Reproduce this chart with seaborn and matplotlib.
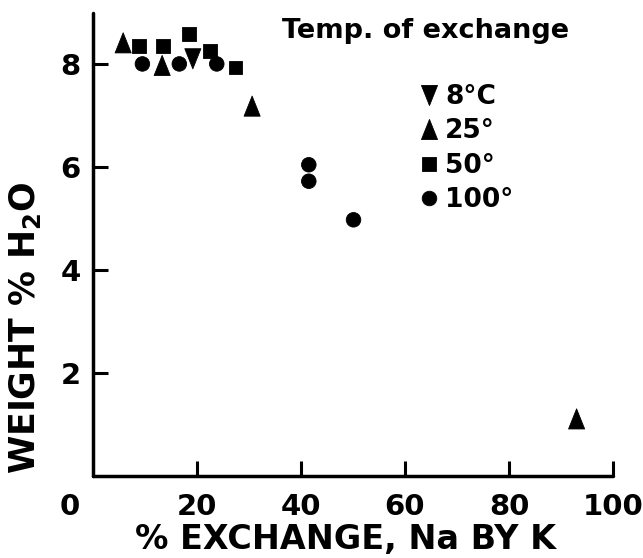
import numpy as np
import pandas as pd
import matplotlib
matplotlib.use("Agg")
import matplotlib.pyplot as plt
from matplotlib.path import Path
import seaborn as sns

# Water content vs. degree of Na -> K exchange, grouped by exchange temperature
temp_labels = ["8°C", "25°", "50°", "100°"]

exch_8 = [19.2]
water_8 = [8.11]

exch_25 = [5.8, 13.3, 30.6, 93.0]
water_25 = [8.42, 7.98, 7.19, 1.11]

exch_50 = [8.9, 13.4, 18.5, 22.5, 27.4]
water_50 = [8.36, 8.36, 8.60, 8.26, 7.94]

exch_100 = [9.5, 16.6, 23.8, 41.5, 41.5, 50.1]
water_100 = [8.01, 8.01, 8.01, 6.05, 5.73, 4.98]

x_ticks = [20, 40, 60, 80, 100]
y_ticks = [2, 4, 6, 8]

frames = []
for lab, xs, ys in zip(temp_labels,
                       [exch_8, exch_25, exch_50, exch_100],
                       [water_8, water_25, water_50, water_100]):
    frames.append(pd.DataFrame({"exchange": xs, "water": ys, "temp": lab}))
df = pd.concat(frames, ignore_index=True)

# narrow, tall triangles
codes = [Path.MOVETO, Path.LINETO, Path.LINETO, Path.CLOSEPOLY]
tri_up = Path([(0, 1), (-0.8, -1), (0.8, -1), (0, 1)], codes)
tri_down = Path([(0, -1), (-0.8, 1), (0.8, 1), (0, -1)], codes)

markers = {"8°C": tri_down, "25°": tri_up, "50°": "s", "100°": "o"}
sizes = {"8°C": 210, "25°": 210, "50°": 100, "100°": 110}
palette = {lab: "black" for lab in temp_labels}

sns.set_theme(style="ticks")
plt.rcParams["font.family"] = ["DejaVu Sans"]
plt.rcParams["font.weight"] = "bold"
plt.rcParams["mathtext.default"] = "regular"
for key in ("text.color", "axes.labelcolor", "xtick.color", "ytick.color",
            "axes.edgecolor"):
    plt.rcParams[key] = "black"

fig = plt.figure(figsize=(6.43, 5.58), dpi=100)
ax = fig.add_axes([93 / 643, 82 / 558, 520 / 643, 463 / 558])

sns.scatterplot(data=df, x="exchange", y="water",
                hue="temp", style="temp", size="temp",
                hue_order=temp_labels, style_order=temp_labels,
                size_order=temp_labels,
                palette=palette, markers=markers, sizes=sizes,
                edgecolor="black", linewidth=0.6, ax=ax, zorder=3,
                clip_on=False)

ax.set_xlim(0, 100)
ax.set_ylim(0, 9)
sns.despine(ax=ax)
for side in ("left", "bottom"):
    ax.spines[side].set_linewidth(2.5)
    ax.spines[side].set_color("black")
    ax.spines[side].set_capstyle("round")

ax.set_xticks(x_ticks)
ax.set_yticks(y_ticks)
ax.tick_params(axis="both", direction="in", length=11, width=2.2,
               labelsize=21, colors="black")
ax.tick_params(axis="x", pad=12)
ax.tick_params(axis="y", pad=9)

# shared origin label at the corner
ax.annotate("0", xy=(0, 0), xycoords="data", xytext=(-23, -31),
            textcoords="offset pixels", ha="center", va="center",
            fontsize=21, fontweight="bold", color="black")

ax.set_xlabel("% EXCHANGE, Na BY K", fontsize=24, fontweight="bold",
              va="center", color="black")
ax.xaxis.set_label_coords(0.485, -0.138)
ax.set_ylabel("WEIGHT % H$_2$O", fontsize=25, fontweight="bold",
              va="center", color="black")
ax.yaxis.set_label_coords(-0.131, 0.32)

ax.text(0.363, 0.946, "Temp. of exchange", transform=ax.transAxes,
        ha="left", va="baseline", fontsize=19.5, fontweight="bold",
        color="black")

sns.move_legend(ax, "upper left",
                bbox_to_anchor=(416 / 643, 1 - 84 / 558),
                bbox_transform=fig.transFigure,
                frameon=False, title=None, fontsize=19,
                borderpad=0, borderaxespad=0, handletextpad=0.1,
                handlelength=1.0, labelspacing=0.32)
for t in ax.get_legend().get_texts():
    t.set_color("black")

fig.savefig("out.png", dpi=100, facecolor="white")
